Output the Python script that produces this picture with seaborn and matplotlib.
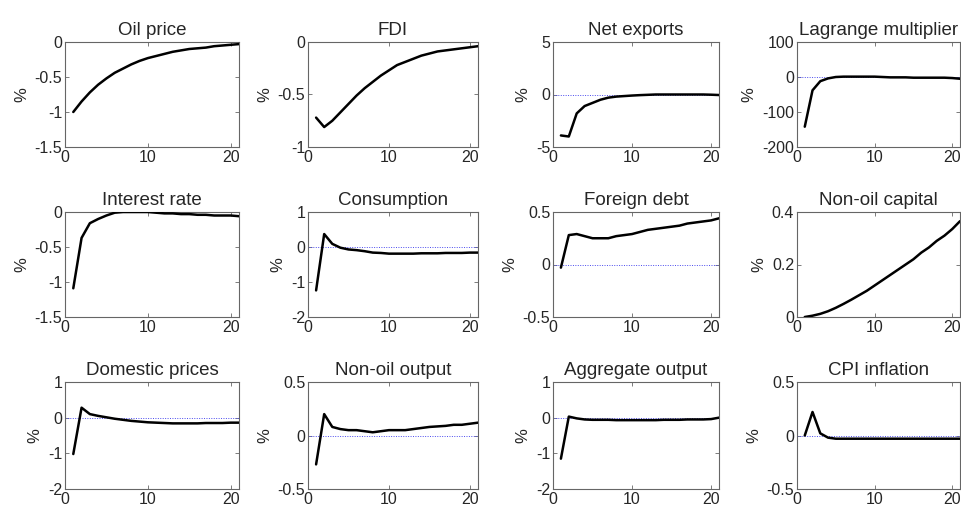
import matplotlib
matplotlib.use("Agg")
import matplotlib.pyplot as plt
import seaborn as sns
import pandas as pd

# periods after the shock
periods = list(range(1, 22))

oil_price = [-1.00, -0.85, -0.72, -0.61, -0.52, -0.44, -0.38, -0.32, -0.27, -0.23, -0.20,
             -0.17, -0.14, -0.12, -0.10, -0.09, -0.08, -0.06, -0.05, -0.04, -0.03]
fdi = [-0.72, -0.81, -0.75, -0.67, -0.59, -0.51, -0.44, -0.38, -0.32, -0.27, -0.22,
       -0.19, -0.16, -0.13, -0.11, -0.09, -0.08, -0.07, -0.06, -0.05, -0.04]
net_exports = [-3.9, -4.0, -1.8, -1.1, -0.8, -0.5, -0.3, -0.2, -0.15, -0.1, -0.06,
               -0.03, 0.0, 0.0, 0.0, 0.0, 0.0, 0.0, 0.0, -0.02, -0.05]
lagrange = [-142, -38, -12, -4, 0, 1, 1, 1, 1, 1, 0,
            -1, -1, -1, -2, -2, -2, -2, -2, -3, -5]
interest_rate = [-1.09, -0.37, -0.16, -0.10, -0.05, -0.01, 0.0, 0.0, 0.0, 0.0, -0.01,
                 -0.02, -0.02, -0.03, -0.03, -0.04, -0.04, -0.05, -0.05, -0.05, -0.06]
consumption = [-1.24, 0.37, 0.09, -0.02, -0.07, -0.09, -0.12, -0.16, -0.17, -0.19, -0.19,
               -0.19, -0.19, -0.18, -0.18, -0.18, -0.17, -0.17, -0.17, -0.16, -0.16]
foreign_debt = [-0.03, 0.28, 0.29, 0.27, 0.25, 0.25, 0.25, 0.27, 0.28, 0.29, 0.31,
                0.33, 0.34, 0.35, 0.36, 0.37, 0.39, 0.40, 0.41, 0.42, 0.44]
nonoil_capital = [0.0, 0.005, 0.012, 0.022, 0.035, 0.05, 0.066, 0.083, 0.10, 0.12, 0.14,
                  0.16, 0.18, 0.20, 0.22, 0.245, 0.265, 0.29, 0.31, 0.335, 0.365]
domestic_prices = [-1.02, 0.28, 0.10, 0.05, 0.01, -0.03, -0.06, -0.09, -0.11, -0.13, -0.14,
                   -0.15, -0.16, -0.16, -0.16, -0.16, -0.15, -0.15, -0.15, -0.14, -0.14]
nonoil_output = [-0.27, 0.20, 0.08, 0.06, 0.05, 0.05, 0.04, 0.03, 0.04, 0.05, 0.05,
                 0.05, 0.06, 0.07, 0.08, 0.085, 0.09, 0.10, 0.10, 0.11, 0.12]
aggregate_output = [-1.15, 0.03, -0.02, -0.05, -0.06, -0.06, -0.06, -0.07, -0.07, -0.07, -0.07,
                    -0.07, -0.07, -0.06, -0.06, -0.06, -0.05, -0.05, -0.05, -0.04, 0.0]
cpi_inflation = [0.0, 0.22, 0.02, -0.02, -0.03, -0.03, -0.03, -0.03, -0.03, -0.03, -0.03,
                 -0.03, -0.03, -0.03, -0.03, -0.03, -0.03, -0.03, -0.03, -0.03, -0.03]

titles = ["Oil price", "FDI", "Net exports", "Lagrange multiplier",
          "Interest rate", "Consumption", "Foreign debt", "Non-oil capital",
          "Domestic prices", "Non-oil output", "Aggregate output", "CPI inflation"]
series = [oil_price, fdi, net_exports, lagrange,
          interest_rate, consumption, foreign_debt, nonoil_capital,
          domestic_prices, nonoil_output, aggregate_output, cpi_inflation]
ylims = [(-1.5, 0), (-1, 0), (-5, 5), (-200, 100),
         (-1.5, 0), (-2, 1), (-0.5, 0.5), (0, 0.4),
         (-2, 1), (-0.5, 0.5), (-2, 1), (-0.5, 0.5)]
yticks = [[-1.5, -1, -0.5, 0], [-1, -0.5, 0], [-5, 0, 5], [-200, -100, 0, 100],
          [-1.5, -1, -0.5, 0], [-2, -1, 0, 1], [-0.5, 0, 0.5], [0, 0.2, 0.4],
          [-2, -1, 0, 1], [-0.5, 0, 0.5], [-2, -1, 0, 1], [-0.5, 0, 0.5]]
yticklabels = [["-1.5", "-1", "-0.5", "0"], ["-1", "-0.5", "0"], ["-5", "0", "5"],
               ["-200", "-100", "0", "100"],
               ["-1.5", "-1", "-0.5", "0"], ["-2", "-1", "0", "1"], ["-0.5", "0", "0.5"],
               ["0", "0.2", "0.4"],
               ["-2", "-1", "0", "1"], ["-0.5", "0", "0.5"], ["-2", "-1", "0", "1"],
               ["-0.5", "0", "0.5"]]

sns.set_style("ticks")
plt.rcParams["font.family"] = ["Liberation Sans", "DejaVu Sans"]

fig = plt.figure(figsize=(9.62, 5.08), dpi=100)

# panel boxes in pixels (left, width) per column, (top, bottom) per row
cols = [(65, 174), (308, 170), (553, 166), (797, 163)]
rows = [(42, 147), (212, 317), (382, 489)]
W, H = 962, 508

for i, (title, vals) in enumerate(zip(titles, series)):
    r, c = divmod(i, 4)
    left, width = cols[c]
    top, bottom = rows[r]
    ax = fig.add_axes([left / W, 1 - bottom / H, width / W, (bottom - top) / H])
    df = pd.DataFrame({"period": periods, "value": vals})
    ax.axhline(0, color="#4a4aee", linestyle=(0, (1, 1.5)), linewidth=0.7, zorder=1)
    sns.lineplot(data=df, x="period", y="value", ax=ax, color="black", linewidth=1.8, zorder=3)
    ax.set_xlim(0, 21)
    ax.set_ylim(*ylims[i])
    ax.set_xticks([0, 10, 20])
    ax.set_xticklabels(["0", "10", "20"])
    ax.set_yticks(yticks[i])
    ax.set_yticklabels(yticklabels[i])
    ax.set_xlabel("")
    ax.set_ylabel("%", fontsize=12, labelpad=4)
    ax.set_title(title, fontsize=13.5, pad=5)
    ax.tick_params(direction="in", length=3, width=0.6, top=True, right=True,
                   labelsize=11.5, pad=2, color="#666666")
    for sp in ax.spines.values():
        sp.set_visible(True)
        sp.set_color("#666666")
        sp.set_linewidth(0.8)

fig.savefig("out.png", dpi=100)
